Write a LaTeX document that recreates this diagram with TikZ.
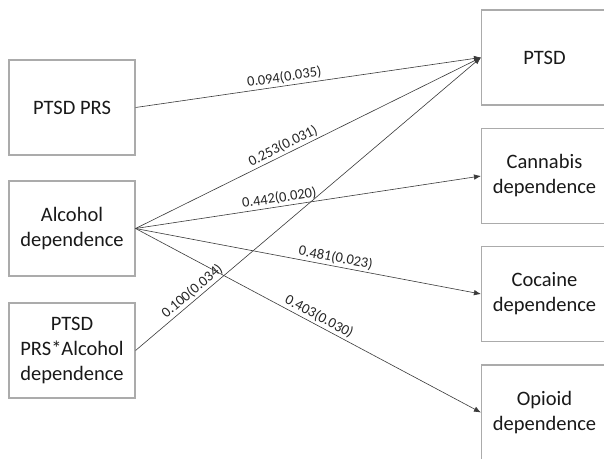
\documentclass[tikz,border=0pt]{standalone}
\usepackage{fontspec}
\setmainfont{Carlito}
\usetikzlibrary{arrows.meta}
\definecolor{boxgray}{HTML}{ABABAB}
\definecolor{linegray}{HTML}{3A3A3A}
\begin{document}
\begin{tikzpicture}[x=1pt,y=-1pt,
  box/.style={draw=boxgray, line width=1.1pt, minimum width=126pt, minimum height=95pt,
    align=center, inner sep=0pt, font=\fontsize{20.5}{25}\selectfont, text=black!90},
  link/.style={draw=linegray, line width=0.6pt, -{Latex[length=7pt,width=5.5pt]}},
  lab/.style={font=\fontsize{14.5}{16}\selectfont, sloped, above, inner sep=2pt, text=black!85}]
\useasboundingbox (0,0) rectangle (604,458);
\clip (0,0) rectangle (604,458);
\fill[white] (0,0) rectangle (604,458);

\node[box] (prs) at (72,107.5) {PTSD PRS};
\node[box] (alc) at (72,228.5) {Alcohol\\dependence};
\node[box] (int) at (72,350.5) {PTSD\\PRS*Alcohol\\dependence};
\node[box] (ptsd) at (544.5,57.5) {PTSD};
\node[box] (can) at (544.5,176) {Cannabis\\dependence};
\node[box] (coc) at (544.5,294) {Cocaine\\dependence};
\node[box] (opi) at (544.5,412.5) {Opioid\\dependence};

\draw[link] (prs.east) -- node[lab,pos=0.434]{0.094(0.035)} (ptsd.west);
\draw[link] (alc.east) -- node[lab,pos=0.438]{0.253(0.031)} (ptsd.west);
\draw[link] (alc.east) -- node[lab,pos=0.42]{0.442(0.020)} (can.west);
\draw[link] (alc.east) -- node[lab,pos=0.575]{0.481(0.023)} (coc.west);
\draw[link] (alc.east) -- node[lab,pos=0.52]{0.403(0.030)} (opi.west);
\draw[link] (int.east) -- node[lab,pos=0.18]{0.100(0.034)} (ptsd.west);
\end{tikzpicture}
\end{document}
